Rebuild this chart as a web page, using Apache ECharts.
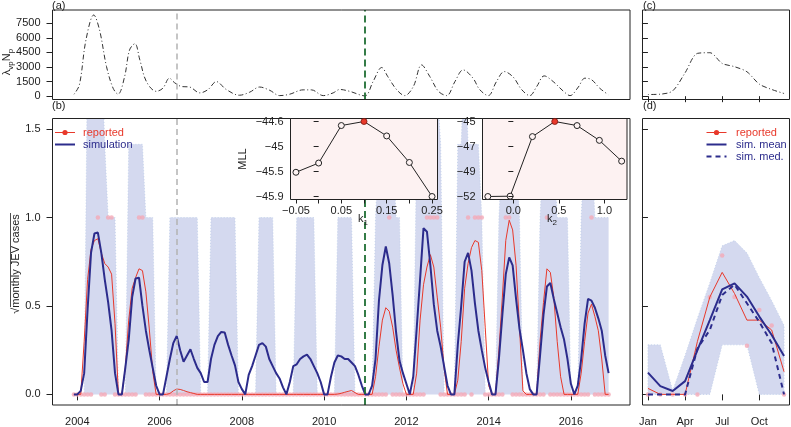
<!DOCTYPE html>
<html><head><meta charset="utf-8">
<script src="https://cdn.jsdelivr.net/npm/echarts@6/dist/echarts.min.js"></script>
<style>html,body{margin:0;padding:0;background:#fff}#c{width:791px;height:427px}</style>
</head><body><div id="c"></div>
<script>
// ---------------- DATA ----------------
// monthly series, first value = Dec 2003, last = Dec 2016
const firstMonthTime = 2003 + 11 / 12;
const simMean = [0,
  0, 0.02, 0.12, 0.48, 0.8, 0.91, 0.915, 0.8, 0.65, 0.52, 0.36, 0.12,
  0, 0, 0.15, 0.31, 0.55, 0.655, 0.66, 0.5, 0.36, 0.25, 0.15, 0.05,
  0, 0, 0.1, 0.2, 0.29, 0.33, 0.25, 0.185, 0.22, 0.255, 0.2, 0.15,
  0.12, 0.07, 0.07, 0.2, 0.28, 0.33, 0.353, 0.35, 0.28, 0.22, 0.164, 0.07,
  0.03, 0, 0.11, 0.16, 0.22, 0.28, 0.29, 0.27, 0.2, 0.16, 0.12, 0.09,
  0.04, 0, 0.07, 0.16, 0.17, 0.2, 0.215, 0.225, 0.2, 0.16, 0.12, 0.07,
  0, 0, 0.1, 0.18, 0.22, 0.215, 0.2, 0.2, 0.18, 0.16, 0.11, 0.05,
  0, 0, 0.05, 0.2, 0.53, 0.73, 0.836, 0.74, 0.56, 0.35, 0.19, 0.12,
  0.06, 0, 0.1, 0.37, 0.65, 0.94, 0.92, 0.73, 0.51, 0.36, 0.27, 0.16,
  0.05, 0, 0, 0.28, 0.5, 0.75, 0.8, 0.7, 0.515, 0.36, 0.25, 0.15,
  0.07, 0, 0, 0.2, 0.45, 0.68, 0.775, 0.73, 0.54, 0.37, 0.25, 0.12,
  0.03, 0, 0, 0.22, 0.45, 0.61, 0.63, 0.54, 0.46, 0.38, 0.31, 0.2,
  0.06, 0, 0.05, 0.2, 0.4, 0.54, 0.53, 0.49, 0.43, 0.36, 0.22, 0.12];
const reportedLine = [0,
  0, 0, 0.3, 0.65, 0.82, 0.87, 0.88, 0.8, 0.74, 0.72, 0.68, 0.4,
  0, 0, 0.15, 0.42, 0.6, 0.66, 0.71, 0.7, 0.58, 0.37, 0.13, 0,
  0, 0, 0, 0.005, 0.02, 0.03, 0.028, 0.022, 0.015, 0.01, 0.005, 0,
  0, 0, 0, 0, 0, 0, 0, 0, 0, 0, 0, 0,
  0, 0, 0, 0, 0, 0, 0, 0, 0, 0, 0, 0,
  0, 0, 0, 0, 0, 0, 0, 0, 0, 0, 0, 0,
  0, 0, 0, 0, 0.002, 0.006, 0.012, 0.017, 0.022, 0.01, 0, 0,
  0, 0, 0, 0.1, 0.27, 0.42, 0.49, 0.47, 0.38, 0.25, 0.15, 0.06,
  0, 0, 0, 0.12, 0.42, 0.62, 0.72, 0.79, 0.72, 0.55, 0.38, 0.15,
  0, 0, 0, 0.08, 0.3, 0.6, 0.74, 0.83, 0.87, 0.86, 0.7, 0.38,
  0.05, 0, 0, 0.25, 0.55, 0.87, 0.985, 0.93, 0.73, 0.38, 0.02, 0,
  0, 0, 0, 0.3, 0.52, 0.71, 0.69, 0.55, 0.3, 0.1, 0, 0,
  0, 0, 0, 0.12, 0.3, 0.46, 0.51, 0.44, 0.36, 0.2, 0, 0];
const reportedPts = [0,
  0, 0, 0, 0, 0, 1.732, 1, 0, 0, 1, 1, 0,
  0, 0, 0, 0, 0, 0, 1, 1, 0, 0, 0, 0,
  0, 0, 0, 0, 0, 0, 0, 0, 0, 0, 0, 0,
  0, 0, 0, 0, 0, 0, 0, 0, 0, 0, 0, 0,
  0, 0, 0, 0, 0, 0, 0, 0, 0, 0, 0, 0,
  0, 0, 0, 0, 0, 0, 0, 0, 0, 0, 0, 0,
  0, 0, 0, 0, 0, 0, 0, 0, 0, 0, 0, 0,
  0, 0, 0, 0, 0, 0, 0, 1, 0, 0, 0, 0,
  0, 0, 0, 0, 0, 0, 1, 1, 1, 1, 0, 0,
  0, 0, 0, 0, 0, 0, 1, 0, 1, 1, 1, 0,
  0, 0, 0, 0, 0, 1, 1, 0, 0, 0, 0, 0,
  0, 0, 0, 0, 0, 1, 0, 0, 0, 0, 0, 0,
  0, 0, 0, 0, 0, 0, 1, 0, 0, 0, 0, 0];
const bandUpper = [0,
  0, 0, 0, 2, 2, 2, 2, 2, 1.414, 1, 1, 1,
  0, 0, 0, 1.414, 1.414, 1.414, 1.414, 1.414, 1, 1, 1, 0,
  0, 0, 0, 1, 1, 1, 1, 1, 1, 1, 1, 1,
  0, 0, 0, 1, 1, 1, 1, 1, 1, 1, 1, 0,
  0, 0, 0, 0, 0, 1, 1, 1, 1, 1, 0, 0,
  0, 0, 0, 0, 1, 1, 1, 1, 1, 1, 0, 0,
  0, 0, 0, 0, 1, 1, 1, 1, 1, 0, 0, 0,
  0, 0, 0, 1, 1.414, 1.414, 1.732, 1.414, 1.414, 1, 1, 0,
  0, 0, 0, 1.414, 1.414, 1.732, 1.732, 1.732, 1.732, 1.732, 1.414, 0,
  0, 0, 0, 1.414, 1.414, 2, 1.414, 1.414, 1.414, 1.414, 1, 0,
  0, 0, 0, 1, 1.414, 1.732, 1.732, 1.414, 1.414, 1, 0, 0,
  0, 0, 0, 1, 1.414, 1.414, 1.414, 1.414, 1, 1, 1, 1,
  0, 0, 0, 1, 1.414, 1.414, 1.414, 1, 1, 1, 1, 1];
const yearTicks = [2004, 2006, 2008, 2010, 2012, 2014, 2016];
const refDates = [2006.417, 2011.0];   // grey and green reference dates

// panel (a): lambda_vp * N_p
const aTime = [2003.92, 2004.05, 2004.21, 2004.40, 2004.54, 2004.71, 2004.87, 2004.99, 2005.15, 2005.27, 2005.40, 2005.52, 2005.68, 2005.92,
  2006.08, 2006.24, 2006.36, 2006.53, 2006.73, 2006.98, 2007.18, 2007.38, 2007.62, 2007.94, 2008.19, 2008.43, 2008.68, 2008.92,
  2009.16, 2009.49, 2009.69, 2009.98, 2010.22, 2010.38, 2010.62, 2010.99, 2011.19, 2011.40, 2011.55, 2011.76, 2011.96,
  2012.17, 2012.37, 2012.57, 2012.78, 2012.98, 2013.18, 2013.38, 2013.62, 2013.78, 2013.99, 2014.19, 2014.38, 2014.60, 2014.80,
  2015.00, 2015.17, 2015.35, 2015.57, 2015.82, 2015.98, 2016.18, 2016.34, 2016.50, 2016.70, 2016.91];
const aValue = [200, 1160, 5780, 8350, 6810, 3040, 820, 205, 2015, 4755, 5400, 3730, 1500, 500,
  820, 1850, 1400, 1000, 940, 340, 690, 1500, 690, 100, 410, 940, 600, 60,
  200, 650, 650, 60, 340, 690, 500, 30, 1500, 2950, 2000, 690, 60,
  1000, 3215, 2015, 500, 60, 1500, 2700, 1850, 690, 60, 1500, 2530, 1950, 690,
  60, 1000, 2085, 1500, 500, 60, 940, 1850, 1700, 820, 150];
const aTicks = [0, 1500, 3000, 4500, 6000, 7500];

// panels (c) and (d): seasonal profile by month
const monthNames = ['Jan', 'Feb', 'Mar', 'Apr', 'May', 'Jun', 'Jul', 'Aug', 'Sep', 'Oct', 'Nov', 'Dec'];
const monthTickIdx = [0, 3, 6, 9];
const cValue = [172, 206, 550, 2400, 4400, 4470, 3370, 3030, 2510, 1240, 690, 275];
const dBandHi = [0.28, 0.28, 0.02, 0.22, 0.43, 0.63, 0.84, 0.87, 0.80, 0.66, 0.53, 0.39];
const dBandLo = [0, 0, 0, 0, 0, 0, 0.28, 0.28, 0.28, 0, 0, 0];
const dReportedLine = [0.034, 0, 0, 0, 0.3, 0.55, 0.69, 0.57, 0.42, 0.42, 0.364, 0.128];
const dReportedPts = [0, 0, 0, 0, 0, 0.55, 0.785, 0.55, 0.275, 0.477, 0.39, 0];
const dSimMean = [0.123, 0.047, 0.019, 0.075, 0.25, 0.42, 0.594, 0.628, 0.553, 0.44, 0.336, 0.217];
const dSimMed = [0, 0, 0, 0, 0.26, 0.364, 0.562, 0.62, 0.515, 0.41, 0.29, 0];
const bTicks = [0, 0.5, 1.0, 1.5];
const bYlim = [0, 1.5];

// insets: profile likelihood
const k1Values = [-0.05, 0, 0.05, 0.1, 0.15, 0.2, 0.25];
const k1MLL = [-45.48, -45.32, -44.67, -44.6, -44.85, -45.31, -45.9];
const k1XTicks = [-0.05, 0, 0.05, 0.1, 0.15, 0.2, 0.25];
const k1XLabels = [-0.05, 0.05, 0.15, 0.25];
const k1YLabels = ['\u221245.9', '\u221245.5', '\u221245', '\u221244.6'];
const k2Values = [-0.28, -0.035, 0.21, 0.455, 0.70, 0.945, 1.19];
const k2MLL = [-52, -51.97, -46.41, -45, -45.38, -46.76, -48.7];
const k2XTicks = [0, 0.5, 1.0];
const k2YLabels = ['\u221252', '\u221249', '\u221247', '\u221245'];

// ---------------- STYLE ----------------
const FONT = '"Liberation Sans", Arial, Helvetica, sans-serif';
const RED = '#e8392b', BLUE = '#2c2c8c', PINK = '#f4a9b6', BAND = '#d4d9ef', BANDEDGE = '#bccde9';
const INSETBG = '#fdf2f2', GRAY = '#b3b3b3', GREEN = '#1f6e34', INK = '#222';

const pair = (xs, ys) => xs.map((x, i) => [x, ys[i]]);
const padRange = (lo, hi) => { const p = 0.04 * (hi - lo); return [lo - p, hi + p]; };

const months = simMean.map((_, i) => firstMonthTime + i / 12);
const tRange = padRange(months[0], months[months.length - 1]);
const aRange = padRange(0, 8520);
const bRange = padRange(bYlim[0], bYlim[1]);
const mRange = padRange(0, 11);
const k1xR = padRange(Math.min(...k1Values), Math.max(...k1Values));
const k1yR = padRange(Math.min(...k1MLL), Math.max(...k1MLL));
const k2xR = padRange(Math.min(...k2Values), Math.max(...k2Values));
const k2yR = padRange(Math.min(...k2MLL), Math.max(...k2MLL));
const seq4 = (lo, hi) => [0, 1, 2, 3].map(i => lo + (hi - lo) * i / 3);
const k1YTicks = seq4(Math.min(...k1MLL), Math.max(...k1MLL));
const k2YTicks = seq4(Math.min(...k2MLL), Math.max(...k2MLL));
const nearestLabel = (ticks, labels) => v => {
  let b = 0; ticks.forEach((t, i) => { if (Math.abs(t - v) < Math.abs(ticks[b] - v)) b = i; });
  return labels[b];
};
const fmtSigned = (d) => v => (v < 0 ? '\u2212' : '') + Math.abs(v).toFixed(d);

function axis(gridIndex, range, o) {
  o = o || {};
  return {
    type: 'value', gridIndex, min: range[0], max: range[1],
    zlevel: o.zlevel || 0, z: o.z || 0,
    axisLine: { show: false }, splitLine: { show: false },
    axisTick: { show: o.ticks !== undefined, inside: false, length: o.tickLen || 6,
      customValues: o.ticks, lineStyle: { color: INK, width: 1 } },
    axisLabel: { show: !!o.labels, customValues: o.labels, formatter: o.fmt,
      color: INK, fontSize: 11, fontFamily: FONT, margin: o.margin || 12 }
  };
}

const grids = [
  { left: 52.5, top: 10, width: 577.5, height: 89.5 },     // a
  { left: 52.5, top: 118.5, width: 577.5, height: 286.5 }, // b
  { left: 642.5, top: 10, width: 147, height: 89.5 },      // c
  { left: 642.5, top: 118.5, width: 147, height: 286.5 },  // d
  { left: 290.5, top: 118.5, width: 147, height: 81 },     // inset k1
  { left: 482.5, top: 118.5, width: 144.5, height: 81 }    // inset k2
].map((g, i) => Object.assign(g, {
  show: true, borderColor: INK, borderWidth: 1, containLabel: false,
  backgroundColor: i >= 4 ? INSETBG : 'transparent',
  zlevel: i >= 4 ? 1 : 0, z: i >= 4 ? 0 : 10
}));

const xAxes = [
  axis(0, tRange, {}),
  axis(1, tRange, { ticks: yearTicks, labels: yearTicks, fmt: v => String(Math.round(v)), margin: 11 }),
  axis(2, mRange, { ticks: monthTickIdx }),
  axis(3, mRange, { ticks: monthTickIdx, labels: monthTickIdx, fmt: v => monthNames[Math.round(v)], margin: 11 }),
  axis(4, k1xR, { ticks: k1XTicks, labels: k1XLabels, fmt: fmtSigned(2), tickLen: 4, margin: 6, zlevel: 1, z: 5 }),
  axis(5, k2xR, { ticks: k2XTicks, labels: k2XTicks, fmt: v => v.toFixed(1), tickLen: 4, margin: 6, zlevel: 1, z: 5 })
];
const yAxes = [
  axis(0, aRange, { ticks: aTicks, labels: aTicks, fmt: v => String(Math.round(v)) }),
  axis(1, bRange, { ticks: bTicks, labels: bTicks, fmt: v => v.toFixed(1) }),
  axis(2, aRange, { ticks: aTicks }),
  axis(3, bRange, { ticks: bTicks }),
  axis(4, k1yR, { ticks: k1YTicks, labels: k1YTicks, fmt: nearestLabel(k1YTicks, k1YLabels), tickLen: 5, margin: 7, zlevel: 1, z: 5 }),
  axis(5, k2yR, { ticks: k2YTicks, labels: k2YTicks, fmt: nearestLabel(k2YTicks, k2YLabels), tickLen: 5, margin: 7, zlevel: 1, z: 5 })
];

const refMarks = {
  silent: true, symbol: ['none', 'none'], label: { show: false }, animation: false,
  data: [
    { xAxis: refDates[0], lineStyle: { color: GRAY, type: [6, 4], width: 1.5 } },
    { xAxis: refDates[1], lineStyle: { color: GREEN, type: [7, 4], width: 1.8 } }
  ]
};
const dotdash = { color: '#333', width: 1, type: [1, 2.5, 5, 2.5] };

function insetSeries(ax, xs, ys) {
  let best = 0; ys.forEach((v, i) => { if (v > ys[best]) best = i; });
  return {
    type: 'line', xAxisIndex: ax, yAxisIndex: ax, zlevel: 1, z: 3,
    symbol: 'circle', symbolSize: 6, showAllSymbol: true,
    lineStyle: { color: INK, width: 1 },
    data: xs.map((x, i) => ({ value: [x, ys[i]],
      itemStyle: i === best ? { color: RED, borderColor: '#7a140c', borderWidth: 0.8 }
                            : { color: INSETBG, borderColor: INK, borderWidth: 1 } }))
  };
}

// band polygon for (d): upper edge forward, lower edge backward
function bandPolygon(params, api) {
  const up = dBandHi.map((v, i) => api.coord([i, v]));
  const lo = dBandLo.map((v, i) => api.coord([i, v])).reverse();
  return { type: 'polygon', shape: { points: up.concat(lo) },
    style: { fill: BAND, stroke: BANDEDGE, lineWidth: 0.8, lineDash: [1, 2] } };
}

const series = [
  // (a)
  { type: 'line', xAxisIndex: 0, yAxisIndex: 0, data: pair(aTime, aValue), symbol: 'none', smooth: 0.35,
    lineStyle: dotdash, markLine: refMarks, z: 3 },
  // (b)
  { type: 'line', xAxisIndex: 1, yAxisIndex: 1, data: pair(months, bandUpper), symbol: 'none',
    lineStyle: { color: BANDEDGE, width: 0.8, type: [1, 2] }, areaStyle: { color: BAND, opacity: 1 }, z: 1 },
  { type: 'scatter', xAxisIndex: 1, yAxisIndex: 1, data: pair(months, reportedPts), symbolSize: 4.5,
    itemStyle: { color: PINK }, clip: true, z: 2, markLine: refMarks },
  { type: 'line', xAxisIndex: 1, yAxisIndex: 1, data: pair(months, reportedLine), symbol: 'none',
    lineStyle: { color: RED, width: 1 }, z: 3 },
  { type: 'line', xAxisIndex: 1, yAxisIndex: 1, data: pair(months, simMean), symbol: 'none',
    lineStyle: { color: BLUE, width: 2 }, z: 4 },
  // (c)
  { type: 'line', xAxisIndex: 2, yAxisIndex: 2, data: cValue.map((v, i) => [i, v]), symbol: 'none', smooth: 0.3,
    lineStyle: dotdash, z: 3 },
  // (d)
  { type: 'custom', xAxisIndex: 3, yAxisIndex: 3, data: [[0, 0]], renderItem: bandPolygon, z: 1, silent: true },
  { type: 'scatter', xAxisIndex: 3, yAxisIndex: 3, data: dReportedPts.map((v, i) => [i, v]), symbolSize: 4.5,
    itemStyle: { color: PINK }, z: 2 },
  { type: 'line', xAxisIndex: 3, yAxisIndex: 3, data: dReportedLine.map((v, i) => [i, v]), symbol: 'none',
    lineStyle: { color: RED, width: 1 }, z: 3 },
  { type: 'line', xAxisIndex: 3, yAxisIndex: 3, data: dSimMean.map((v, i) => [i, v]), symbol: 'none',
    lineStyle: { color: BLUE, width: 2 }, z: 4 },
  { type: 'line', xAxisIndex: 3, yAxisIndex: 3, data: dSimMed.map((v, i) => [i, v]), symbol: 'none',
    lineStyle: { color: BLUE, width: 2, type: [5, 4] }, z: 4 },
  // insets
  insetSeries(4, k1Values, k1MLL),
  insetSeries(5, k2Values, k2MLL)
];

// ---------------- TEXT / LEGENDS ----------------
const g = [];
const T = (x, y, text, o) => {
  o = o || {};
  g.push({ type: 'text', x, y, rotation: o.rot || 0, zlevel: o.zlevel || 1, z: 50, silent: true,
    style: { x: 0, y: 0, text, fill: o.color || INK, font: (o.size || 11) + 'px ' + FONT,
      align: o.align || 'left', textAlign: o.align || 'left',
      verticalAlign: 'middle', textVerticalAlign: 'middle', rich: o.rich } });
};
const L = (x1, y1, x2, y2, color, w, dash) => g.push({ type: 'line', zlevel: 1, z: 50, silent: true,
  shape: { x1, y1, x2, y2 }, style: { stroke: color, lineWidth: w, lineDash: dash || null } });
const C = (cx, cy, r, color) => g.push({ type: 'circle', zlevel: 1, z: 51, silent: true,
  shape: { cx, cy, r }, style: { fill: color } });
const subRich = {
  a: { fontSize: 11, fontFamily: FONT, fill: INK, verticalAlign: 'top', lineHeight: 13 },
  s: { fontSize: 8, fontFamily: FONT, fill: INK, verticalAlign: 'bottom', lineHeight: 13 }
};

T(52, 5.5, '(a)'); T(52, 105.5, '(b)'); T(643, 5.5, '(c)'); T(643, 105.5, '(d)');
T(8, 62, '{a|\u03bb}{s|vp}{a|N}{s|p}', { rot: Math.PI / 2, align: 'center', rich: subRich });
T(16, 264, '\u221amonthly JEV cases', { rot: Math.PI / 2, align: 'center' });
L(10.5, 213, 10.5, 307, INK, 0.8);
T(242.5, 159, 'MLL', { rot: Math.PI / 2, align: 'center' });
T(363, 220, '{a|k}{s|1}', { align: 'center', rich: subRich });
T(552, 220, '{a|k}{s|2}', { align: 'center', rich: subRich });
// legend (b)
L(55, 132.5, 75, 132.5, RED, 1); C(65, 132.5, 2.6, RED); T(83, 132.5, 'reported', { color: RED });
L(55, 144.5, 75, 144.5, BLUE, 2); T(83, 144.5, 'simulation', { color: BLUE });
// legend (d)
L(706.5, 132.5, 726.5, 132.5, RED, 1); C(716.5, 132.5, 2.6, RED); T(736, 132.5, 'reported', { color: RED });
L(706.5, 144.5, 726.5, 144.5, BLUE, 2); T(736, 144.5, 'sim. mean', { color: BLUE });
L(706.5, 156.5, 726.5, 156.5, BLUE, 2, [5, 4]); T(736, 156.5, 'sim. med.', { color: BLUE });

const chart = echarts.init(document.getElementById('c'), null, { renderer: 'canvas', width: 791, height: 427 });
chart.setOption({
  animation: false, backgroundColor: '#fff',
  textStyle: { fontFamily: FONT },
  grid: grids, xAxis: xAxes, yAxis: yAxes, series, graphic: g
});
</script></body></html>
